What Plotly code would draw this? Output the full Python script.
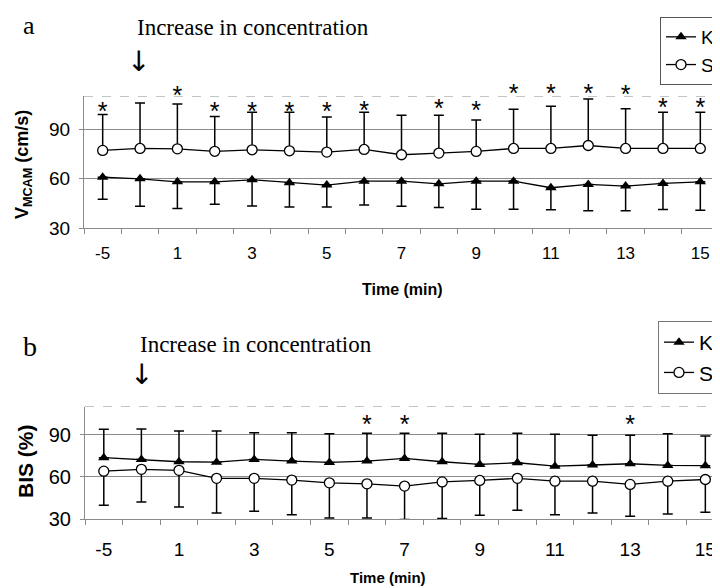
import plotly.graph_objects as go

# ---------------- data ----------------
time_cats = ["-5", "0", "1", "2", "3", "4", "5", "6", "7", "8", "9", "10", "11", "12", "13", "14", "15"]
tick_labels = ["-5", "", "1", "", "3", "", "5", "", "7", "", "9", "", "11", "", "13", "", "15"]

# panel a: VMCAM (cm/s)
vm_K = [60.8, 59.8, 58.0, 58.0, 59.2, 57.4, 56.0, 58.4, 58.4, 56.8, 58.4, 58.4, 54.4, 56.4, 55.4, 57.0, 58.0]
vm_K_lo = [47.4, 43.2, 41.8, 44.4, 43.4, 42.8, 42.8, 44.0, 43.2, 42.4, 41.4, 41.4, 41.0, 40.4, 40.4, 41.2, 40.8]
vm_S = [77.0, 78.2, 78.0, 76.5, 77.4, 76.8, 76.0, 77.6, 74.4, 75.4, 76.4, 78.2, 78.2, 80.0, 78.2, 78.2, 78.2]
vm_S_hi = [98.8, 105.8, 105.2, 97.6, 100.2, 100.2, 97.2, 100.2, 98.4, 98.4, 95.4, 102.0, 103.8, 108.2, 102.2, 100.2, 100.2]
sig_a_x = ["-5", "1", "2", "3", "4", "5", "6", "8", "9", "10", "11", "12", "13", "14", "15"]
sig_a_y = [102.6, 112.2, 102.6, 102.6, 102.6, 102.6, 103.0, 104.4, 103.2, 113.4, 113.4, 113.4, 112.8, 105.0, 105.0]

# panel b: BIS (%)
bis_K = [73.6, 72.4, 70.7, 70.4, 72.4, 71.2, 70.2, 71.2, 73.1, 70.7, 68.8, 70.0, 67.6, 68.4, 69.3, 68.1, 67.9]
bis_K_hi = [93.9, 94.0, 92.6, 92.6, 91.4, 91.4, 90.7, 91.0, 91.0, 91.0, 90.3, 91.0, 90.3, 89.6, 89.6, 90.7, 89.0]
bis_S = [64.0, 65.3, 64.6, 58.9, 58.9, 57.7, 55.7, 55.0, 53.4, 56.4, 57.4, 58.9, 56.9, 56.9, 54.6, 56.9, 58.1]
bis_S_lo = [39.8, 42.1, 38.6, 34.3, 35.5, 33.1, 30.7, 30.7, 29.6, 30.3, 32.6, 36.2, 33.1, 34.3, 31.9, 33.6, 34.8]
sig_b_x = ["6", "7", "13"]
sig_b_y = [99.5, 99.5, 99.5]

# ---------------- figure ----------------
OFF = 8                      # default page body margin
W, H = 720 - OFF, 588 - OFF  # figure size so that it fills the window
AX = "Liberation Sans, Arial, sans-serif"
SERIF = "Liberation Serif, Times New Roman, serif"
GRID = "#8a8a8a"

fig = go.Figure()

def err_up(vals, hi):
    return [h - v for v, h in zip(vals, hi)]

def err_dn(vals, lo):
    return [v - l for v, l in zip(vals, lo)]

K_marker = dict(symbol="triangle-up", size=10, color="black")
S_marker = dict(symbol="circle", size=10, color="white", line=dict(color="black", width=1.3))
line_style = dict(color="black", width=1.3)
STAR_FONT = dict(family=AX, size=25, color="black")

# Panel a
fig.add_trace(go.Scatter(x=time_cats, y=vm_K, mode="lines+markers", name="K",
                         marker=K_marker, line=line_style,
                         error_y=dict(type="data", symmetric=False, array=[0] * len(vm_K),
                                      arrayminus=err_dn(vm_K, vm_K_lo), color="black",
                                      thickness=1.5, width=5),
                         xaxis="x", yaxis="y", legend="legend", cliponaxis=False))
fig.add_trace(go.Scatter(x=time_cats, y=vm_S, mode="lines+markers", name="S",
                         marker=S_marker, line=line_style,
                         error_y=dict(type="data", symmetric=False, array=err_up(vm_S, vm_S_hi),
                                      arrayminus=[0] * len(vm_S), color="black",
                                      thickness=1.5, width=5),
                         xaxis="x", yaxis="y", legend="legend", cliponaxis=False))
fig.add_trace(go.Scatter(x=sig_a_x, y=[v - 3.4 for v in sig_a_y], mode="text", text=["*"] * len(sig_a_x),
                         textfont=STAR_FONT, showlegend=False,
                         xaxis="x", yaxis="y", cliponaxis=False, hoverinfo="skip"))

# Panel b
fig.add_trace(go.Scatter(x=time_cats, y=bis_K, mode="lines+markers", name="K",
                         marker=K_marker, line=line_style,
                         error_y=dict(type="data", symmetric=False, array=err_up(bis_K, bis_K_hi),
                                      arrayminus=[0] * len(bis_K), color="black",
                                      thickness=1.5, width=5),
                         xaxis="x2", yaxis="y2", legend="legend2", cliponaxis=False))
fig.add_trace(go.Scatter(x=time_cats, y=bis_S, mode="lines+markers", name="S",
                         marker=S_marker, line=line_style,
                         error_y=dict(type="data", symmetric=False, array=[0] * len(bis_S),
                                      arrayminus=err_dn(bis_S, bis_S_lo), color="black",
                                      thickness=1.5, width=5),
                         xaxis="x2", yaxis="y2", legend="legend2", cliponaxis=False))
fig.add_trace(go.Scatter(x=sig_b_x, y=[v - 4.0 for v in sig_b_y], mode="text", text=["*"] * len(sig_b_x),
                         textfont=STAR_FONT, showlegend=False,
                         xaxis="x2", yaxis="y2", cliponaxis=False, hoverinfo="skip"))

# convert window pixel positions to paper fractions
def px_x(p):
    return (p - OFF) / W

def px_y(p):
    return 1 - (p - OFF) / H

xa_common = dict(type="category", categoryorder="array", categoryarray=time_cats,
                 tickmode="array", tickvals=time_cats, ticktext=tick_labels,
                 tickson="boundaries", ticks="outside", ticklen=5, tickcolor=GRID,
                 showline=True, linecolor=GRID, linewidth=1, showgrid=False, zeroline=False,
                 automargin=False)
ya_common = dict(range=[30, 110], tickvals=[30, 60, 90], ticks="outside", ticklen=4,
                 tickcolor=GRID, showline=True, linecolor=GRID, linewidth=1,
                 showgrid=True, gridcolor=GRID, gridwidth=1, zeroline=False, automargin=False)

fig.update_layout(
    width=W, height=H,
    margin=dict(l=0, r=0, t=0, b=0),
    paper_bgcolor="white", plot_bgcolor="white",
    font=dict(family=AX, color="black"),
    xaxis=dict(**xa_common, domain=[px_x(84), px_x(719)], range=[-0.5, 16.5], anchor="y",
               tickfont=dict(family=AX, size=17), ticklabelstandoff=10),
    yaxis=dict(**ya_common, domain=[px_y(228), px_y(96)], anchor="x",
               tickfont=dict(family=AX, size=19), ticklabelstandoff=5),
    xaxis2=dict(**xa_common, domain=[px_x(85), 1.0], range=[-0.5, 16.39], anchor="y2",
                tickfont=dict(family=AX, size=19), ticklabelstandoff=13),
    yaxis2=dict(**ya_common, domain=[px_y(519), px_y(406.5)], anchor="x2",
                tickfont=dict(family=AX, size=20), ticklabelstandoff=5),
    legend=dict(x=1.0, y=px_y(17), xanchor="right", yanchor="top",
                bordercolor="#555555", borderwidth=1, bgcolor="white",
                font=dict(family=AX, size=19), itemwidth=30, tracegroupgap=0,
                itemclick=False),
    legend2=dict(x=1.0, y=px_y(321), xanchor="right", yanchor="top",
                 bordercolor="#777777", borderwidth=1, bgcolor="white",
                 font=dict(family=AX, size=21), itemwidth=30, tracegroupgap=0,
                 itemclick=False),
    showlegend=True,
)

# dashed top borders
for yref, xref in (("y", "x domain"), ("y2", "x2 domain")):
    fig.add_shape(type="line", xref=xref, yref=yref, x0=0, x1=1, y0=110, y1=110,
                  line=dict(color=GRID, width=1, dash="dash"))

def ann(text, x, y, size, family, **kw):
    fig.add_annotation(text=text, xref="paper", yref="paper", x=px_x(x), y=px_y(y),
                       xanchor="center", yanchor="middle", showarrow=False,
                       font=dict(family=family, size=size, color="black"), **kw)

# panel labels and notes
ann("a", 29, 26, 26, SERIF)
ann("b", 30, 346, 28, SERIF)
ann("Increase in concentration", 253, 27, 23, SERIF)
ann("Increase in concentration", 256, 344, 23, SERIF)
ann("↓", 138, 62, 28, "DejaVu Sans, sans-serif")
ann("↓", 141, 374, 28, "DejaVu Sans, sans-serif")

# axis titles
ann("<b>Time (min)</b>", 402, 289, 16, AX)
ann("<b>Time (min)</b>", 388, 577, 15, AX)
ann("<b>V<sub>MCAM</sub> (cm/s)</b>", 23, 165, 18, AX, textangle=-90)
ann("<b>BIS (%)</b>", 25, 461, 21, AX, textangle=-90)

fig.write_html("out.html")
